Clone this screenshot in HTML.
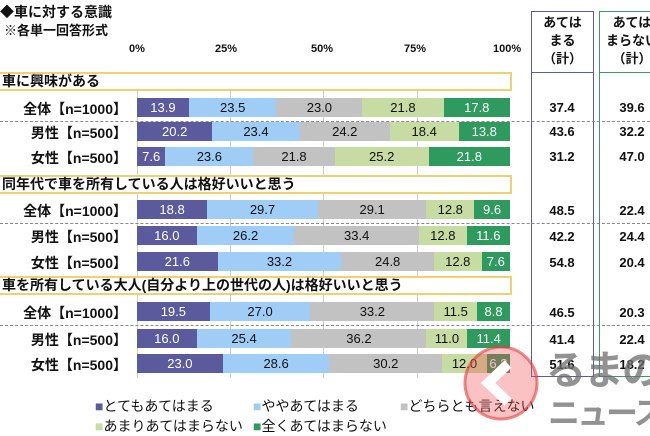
<!DOCTYPE html>
<html><head><meta charset="utf-8"><style>
*{margin:0;padding:0;box-sizing:border-box}
body{width:650px;height:433px;background:#fff;position:relative;overflow:hidden;font-family:"Liberation Sans","Noto Sans CJK JP",sans-serif;font-weight:bold;color:#111}
.a{position:absolute;white-space:nowrap}
.bar{position:absolute;left:137px;width:373px;height:19px;display:flex}
.bar div{height:100%;font-size:13px;line-height:19px;text-align:center;font-weight:normal;overflow:hidden}
.c1{background:#5b5a9d;color:#fff}.c2{background:#9fcdf6}.c3{background:#c2c2c2}.c4{background:#c6dca2}.c5{background:#2f9a5e;color:#fff}
.lab{position:absolute;right:523px;font-size:14px;width:140px;text-align:right}
.hd{position:absolute;left:0;width:512px;height:19px;border-top:2px solid #f0d070;border-bottom:2px solid #f0d070;border-right:2px solid #f0d070;font-size:14px;line-height:15px;padding-left:2px;background:#fff}
.v{position:absolute;font-size:13px;text-align:center;width:60px}
.dot{position:absolute;left:0;width:650px;border-top:1px dashed #888}
.g{position:absolute;top:73px;height:305px;border-left:1px solid #ccc}
.lg{position:absolute;white-space:nowrap;font-size:14px;font-weight:normal}
</style></head><body>
<div class="a" style="left:0;top:2px;font-size:14px">◆車に対する意識</div>
<div class="a" style="left:4px;top:20px;font-size:13px">※各単一回答形式</div>
<div class="a" style="left:129px;top:43px;font-size:11px">0%</div>
<div class="a" style="left:215px;top:43px;font-size:11px">25%</div>
<div class="a" style="left:311px;top:43px;font-size:11px">50%</div>
<div class="a" style="left:404px;top:43px;font-size:11px">75%</div>
<div class="a" style="left:493px;top:43px;font-size:11px">100%</div>
<div class="g" style="left:230px"></div><div class="g" style="left:323px"></div><div class="g" style="left:417px"></div><div class="g" style="left:137px"></div>
<div class="a" style="left:531px;top:11px;width:63px;height:366px;border:1.5px solid #5b5aa8"></div>
<div class="a" style="left:531px;top:72px;width:63px;border-top:1.5px solid #5b5aa8"></div>
<div class="a" style="left:599px;top:11px;width:60px;height:366px;border:1.5px solid #3a9a6a"></div>
<div class="a" style="left:599px;top:72px;width:60px;border-top:1.5px solid #3a9a6a"></div>
<div class="a" style="left:531px;top:14px;width:63px;text-align:center;font-size:13px;line-height:18px">あては<br>まる<br>（計）</div>
<div class="a" style="left:602px;top:14px;width:60px;text-align:center;font-size:13px;line-height:18px">あては<br>まらない<br>（計）</div>

<div class="hd" style="top:72px">車に興味がある</div>
<div class="hd" style="top:175px">同年代で車を所有している人は格好いいと思う</div>
<div class="hd" style="top:276px">車を所有している大人(自分より上の世代の人)は格好いいと思う</div>

<div class="dot" style="top:121px"></div><div class="dot" style="top:223px"></div><div class="dot" style="top:325px"></div>

<div class="lab" style="top:99px">全体【n=1000】</div>
<div class="bar" style="top:98px"><div class="c1" style="width:13.9%">13.9</div><div class="c2" style="width:23.5%">23.5</div><div class="c3" style="width:23%">23.0</div><div class="c4" style="width:21.8%">21.8</div><div class="c5" style="width:17.8%">17.8</div></div>
<div class="v" style="left:532px;top:100px">37.4</div><div class="v" style="left:602px;top:100px">39.6</div>
<div class="lab" style="top:123px">男性【n=500】</div>
<div class="bar" style="top:122px"><div class="c1" style="width:20.2%">20.2</div><div class="c2" style="width:23.4%">23.4</div><div class="c3" style="width:24.2%">24.2</div><div class="c4" style="width:18.4%">18.4</div><div class="c5" style="width:13.8%">13.8</div></div>
<div class="v" style="left:532px;top:124px">43.6</div><div class="v" style="left:602px;top:124px">32.2</div>
<div class="lab" style="top:148px">女性【n=500】</div>
<div class="bar" style="top:147px"><div class="c1" style="width:7.6%">7.6</div><div class="c2" style="width:23.6%">23.6</div><div class="c3" style="width:21.8%">21.8</div><div class="c4" style="width:25.2%">25.2</div><div class="c5" style="width:21.8%">21.8</div></div>
<div class="v" style="left:532px;top:149px">31.2</div><div class="v" style="left:602px;top:149px">47.0</div>

<div class="lab" style="top:201px">全体【n=1000】</div>
<div class="bar" style="top:200px"><div class="c1" style="width:18.8%">18.8</div><div class="c2" style="width:29.7%">29.7</div><div class="c3" style="width:29.1%">29.1</div><div class="c4" style="width:12.8%">12.8</div><div class="c5" style="width:9.6%">9.6</div></div>
<div class="v" style="left:532px;top:203px">48.5</div><div class="v" style="left:602px;top:203px">22.4</div>
<div class="lab" style="top:227px">男性【n=500】</div>
<div class="bar" style="top:226px"><div class="c1" style="width:16%">16.0</div><div class="c2" style="width:26.2%">26.2</div><div class="c3" style="width:33.4%">33.4</div><div class="c4" style="width:12.8%">12.8</div><div class="c5" style="width:11.6%">11.6</div></div>
<div class="v" style="left:532px;top:229px">42.2</div><div class="v" style="left:602px;top:229px">24.4</div>
<div class="lab" style="top:253px">女性【n=500】</div>
<div class="bar" style="top:252px"><div class="c1" style="width:21.6%">21.6</div><div class="c2" style="width:33.2%">33.2</div><div class="c3" style="width:24.8%">24.8</div><div class="c4" style="width:12.8%">12.8</div><div class="c5" style="width:7.6%">7.6</div></div>
<div class="v" style="left:532px;top:255px">54.8</div><div class="v" style="left:602px;top:255px">20.4</div>

<div class="lab" style="top:303px">全体【n=1000】</div>
<div class="bar" style="top:302px"><div class="c1" style="width:19.5%">19.5</div><div class="c2" style="width:27%">27.0</div><div class="c3" style="width:33.2%">33.2</div><div class="c4" style="width:11.5%">11.5</div><div class="c5" style="width:8.8%">8.8</div></div>
<div class="v" style="left:532px;top:305px">46.5</div><div class="v" style="left:602px;top:305px">20.3</div>
<div class="lab" style="top:330px">男性【n=500】</div>
<div class="bar" style="top:329px"><div class="c1" style="width:16%">16.0</div><div class="c2" style="width:25.4%">25.4</div><div class="c3" style="width:36.2%">36.2</div><div class="c4" style="width:11%">11.0</div><div class="c5" style="width:11.4%">11.4</div></div>
<div class="v" style="left:532px;top:332px">41.4</div><div class="v" style="left:602px;top:332px">22.4</div>
<div class="lab" style="top:355px">女性【n=500】</div>
<div class="bar" style="top:354px"><div class="c1" style="width:23%">23.0</div><div class="c2" style="width:28.6%">28.6</div><div class="c3" style="width:30.2%">30.2</div><div class="c4" style="width:12%">12.0</div><div class="c5" style="width:6.2%">6.2</div></div>
<div class="v" style="left:532px;top:357px">51.6</div><div class="v" style="left:602px;top:357px">18.2</div>

<div class="lg" style="left:95px;top:396px"><span style="color:#5b5a9d">■</span>とてもあてはまる</div>
<div class="lg" style="left:253px;top:396px"><span style="color:#9fcdf6">■</span>ややあてはまる</div>
<div class="lg" style="left:400px;top:396px"><span style="color:#c2c2c2">■</span>どちらとも言えない</div>
<div class="lg" style="left:95px;top:416px"><span style="color:#c6dca2">■</span>あまりあてはまらない</div>
<div class="lg" style="left:253px;top:416px"><span style="color:#2f9a5e">■</span>全くあてはまらない</div>

<svg class="a" style="left:458px;top:340px" width="86" height="86"><circle cx="43" cy="43" r="36" fill="rgba(240,80,80,0.35)" stroke="rgba(230,60,60,0.6)" stroke-width="3"/><path d="M50 24 L30 43 L50 62" stroke="#fff" stroke-width="10" fill="none"/></svg>
<div class="a" style="left:546px;top:338px;font-size:40px;color:rgba(110,110,110,0.75);letter-spacing:-2px">るまの</div>
<div class="a" style="left:548px;top:388px;font-size:32px;color:rgba(110,110,110,0.75);letter-spacing:-3px">ニュース</div>
</body></html>
